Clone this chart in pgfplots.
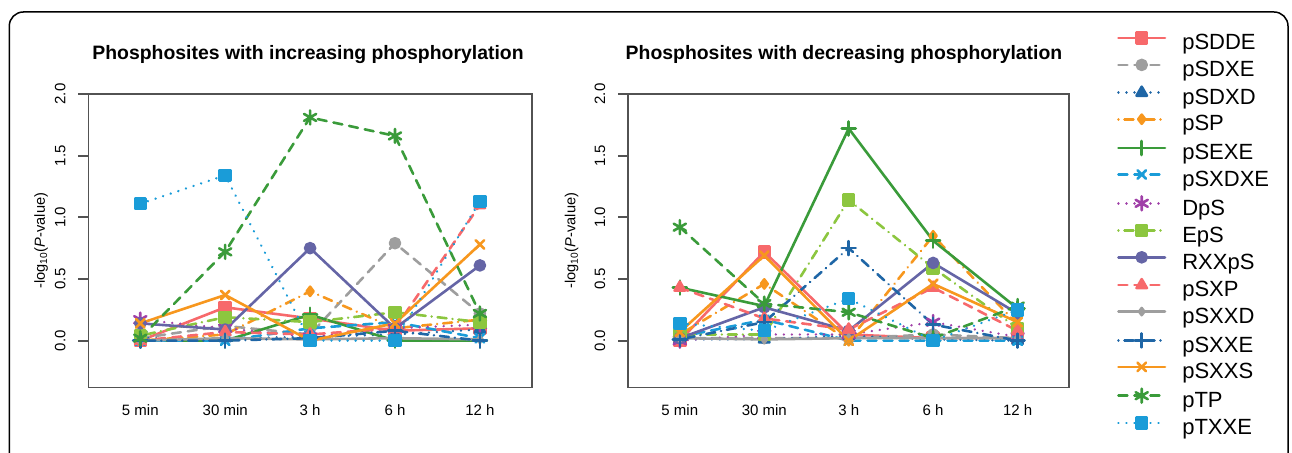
\documentclass[border=0pt]{standalone}
\usepackage{fontspec}
\setmainfont{Liberation Sans}
\usepackage{pgfplots}
\pgfplotsset{compat=1.18}

\definecolor{cSalmon}{HTML}{F7696B}
\definecolor{cGray}{HTML}{9E9E9E}
\definecolor{cNavy}{HTML}{1F66A6}
\definecolor{cOrange}{HTML}{F7971E}
\definecolor{cGreen}{HTML}{3A9B3A}
\definecolor{cSky}{HTML}{1A9CD8}
\definecolor{cPurple}{HTML}{A040A8}
\definecolor{cLime}{HTML}{8CC63F}
\definecolor{cSlate}{HTML}{6565A6}

\tikzset{
  ldash/.style={dash pattern=on 4.5pt off 3.5pt},
  ldot/.style={dash pattern=on 0.01pt off 4pt},
  ldotdash/.style={dash pattern=on 0.01pt off 3pt on 4.5pt off 3pt},
}

\pgfplotsset{
  every axis plot/.append style={line width=1.3pt, line cap=round, line join=round, mark options={solid}},
  sSDDE/.style={cSalmon, solid, mark=square*, mark size=2.7pt},
  sSDXE/.style={cGray, ldash, mark=*, mark size=2.5pt},
  sSDXD/.style={cNavy, ldot, mark=triangle*, mark size=3pt},
  sSP/.style={cOrange, ldotdash, mark=diamond*, mark size=2.3pt},
  sSEXE/.style={cGreen, solid, mark=+, mark size=3.5pt},
  sSXDXE/.style={cSky, ldash, mark=x, mark size=3pt},
  sDpS/.style={cPurple, ldot, mark=asterisk, mark size=3.5pt},
  sEpS/.style={cLime, ldotdash, mark=square*, mark size=2.7pt},
  sRXXpS/.style={cSlate, solid, mark=*, mark size=2.5pt},
  sSXP/.style={cSalmon, ldash, mark=triangle*, mark size=3pt},
  sSXXD/.style={cGray, solid, mark=diamond*, mark size=1.8pt},
  sSXXE/.style={cNavy, ldotdash, mark=+, mark size=3.5pt},
  sSXXS/.style={cOrange, solid, mark=x, mark size=3pt},
  sTP/.style={cGreen, ldash, mark=asterisk, mark size=3.5pt},
  sTXXE/.style={cSky, ldot, mark=square*, mark size=2.7pt},
  panel/.style={
    anchor=north west,
    scale only axis,
    height=146.75pt,
    xmin=0.39, xmax=5.61,
    ymin=-0.38, ymax=2.0,
    xtick={1,2,3,4,5},
    xticklabels={5 min,30 min,3 h,6 h,12 h},
    ytick={0,0.5,1,1.5,2},
    yticklabels={0.0,0.5,1.0,1.5,2.0},
    ytick pos=left,
    xtick style={draw=none},
    tick align=outside,
    major tick length=5pt,
    axis line style={draw=black!68, line width=0.9pt},
    ytick style={draw=black!68, line width=0.9pt},
    tick label style={font=\fontsize{7.5}{8}\selectfont},
    xticklabel style={anchor=base, yshift=-9pt},
    yticklabel style={rotate=90, anchor=south},
    yticklabel shift=3pt,
  },
}

\begin{document}
\begin{tikzpicture}
\useasboundingbox (0pt,0pt) rectangle (646pt,-226.5pt);
\draw[line width=0.75pt, rounded corners=7pt] (4.65pt,-240pt) -- (4.65pt,-6pt) -- (644pt,-6pt) -- (644pt,-240pt);

\begin{axis}[panel, at={(44.25pt,-47pt)}, width=221.6pt]
\addplot[sSDDE]  coordinates {(1,0.00) (2,0.27) (3,0.18) (4,0.08) (5,0.10)};
\addplot[sSDXE]  coordinates {(1,0.02) (2,0.12) (3,0.05) (4,0.79) (5,0.22)};
\addplot[sSDXD]  coordinates {(1,0.02) (2,0.02) (3,0.03) (4,0.05) (5,0.09)};
\addplot[sSP]    coordinates {(1,0.00) (2,0.05) (3,0.40) (4,0.10) (5,0.17)};
\addplot[sSEXE]  coordinates {(1,0.00) (2,0.00) (3,0.21) (4,0.00) (5,0.00)};
\addplot[sSXDXE] coordinates {(1,0.00) (2,0.00) (3,0.10) (4,0.15) (5,0.02)};
\addplot[sDpS]   coordinates {(1,0.17) (2,0.10) (3,0.03) (4,0.10) (5,0.13)};
\addplot[sEpS]   coordinates {(1,0.04) (2,0.19) (3,0.15) (4,0.23) (5,0.15)};
\addplot[sRXXpS] coordinates {(1,0.14) (2,0.09) (3,0.75) (4,0.10) (5,0.61)};
\addplot[sSXP]   coordinates {(1,0.00) (2,0.07) (3,0.05) (4,0.10) (5,1.10)};
\addplot[sSXXD]  coordinates {(1,0.00) (2,0.02) (3,0.01) (4,0.02) (5,0.01)};
\addplot[sSXXE]  coordinates {(1,0.00) (2,0.00) (3,0.02) (4,0.08) (5,0.00)};
\addplot[sSXXS]  coordinates {(1,0.14) (2,0.37) (3,0.00) (4,0.14) (5,0.78)};
\addplot[sTP]    coordinates {(1,0.02) (2,0.72) (3,1.81) (4,1.66) (5,0.22)};
\addplot[sTXXE]  coordinates {(1,1.11) (2,1.34) (3,0.00) (4,0.00) (5,1.13)};
\end{axis}

\begin{axis}[panel, at={(314.15pt,-47pt)}, width=220.4pt,
  legend cell align=left,
  legend image code/.code={\draw[mark repeat=2,mark phase=2,#1] plot coordinates {(0pt,3.5pt) (11.65pt,3.5pt) (23.3pt,3.5pt)};},
  legend style={at={(1.108,1.2102)}, anchor=north west, draw=none, fill=none, inner sep=0pt,
    font=\fontsize{11}{12}\selectfont,
    nodes={inner sep=0pt, text height=8.2pt, text depth=3.5pt},
    row sep=1.55pt, /tikz/column 1/.style={column sep=8pt}},
]
\addplot[sSDDE]  coordinates {(1,0.00) (2,0.72) (3,0.05) (4,0.02) (5,0.02)};
\addplot[sSDXE]  coordinates {(1,0.02) (2,0.02) (3,0.02) (4,0.05) (5,0.02)};
\addplot[sSDXD]  coordinates {(1,0.01) (2,0.01) (3,0.04) (4,0.01) (5,0.00)};
\addplot[sSP]    coordinates {(1,0.05) (2,0.46) (3,0.00) (4,0.85) (5,0.13)};
\addplot[sSEXE]  coordinates {(1,0.43) (2,0.28) (3,1.72) (4,0.81) (5,0.26)};
\addplot[sSXDXE] coordinates {(1,0.03) (2,0.17) (3,0.00) (4,0.00) (5,0.00)};
\addplot[sDpS]   coordinates {(1,0.00) (2,0.05) (3,0.05) (4,0.15) (5,0.03)};
\addplot[sEpS]   coordinates {(1,0.05) (2,0.05) (3,1.14) (4,0.59) (5,0.10)};
\addplot[sRXXpS] coordinates {(1,0.02) (2,0.27) (3,0.08) (4,0.63) (5,0.22)};
\addplot[sSXP]   coordinates {(1,0.43) (2,0.18) (3,0.09) (4,0.43) (5,0.08)};
\addplot[sSXXD]  coordinates {(1,0.02) (2,0.01) (3,0.02) (4,0.02) (5,0.02)};
\addplot[sSXXE]  coordinates {(1,0.01) (2,0.15) (3,0.75) (4,0.13) (5,0.00)};
\addplot[sSXXS]  coordinates {(1,0.07) (2,0.69) (3,0.00) (4,0.46) (5,0.15)};
\addplot[sTP]    coordinates {(1,0.92) (2,0.30) (3,0.23) (4,0.02) (5,0.28)};
\addplot[sTXXE]  coordinates {(1,0.14) (2,0.08) (3,0.34) (4,0.00) (5,0.25)};
\legend{pSDDE,pSDXE,pSDXD,pSP,pSEXE,pSXDXE,DpS,EpS,RXXpS,pSXP,pSXXD,pSXXE,pSXXS,pTP,pTXXE}
\end{axis}

\node[anchor=base, font=\bfseries\fontsize{9.7}{11}\selectfont] at (154pt,-30pt) {Phosphosites with increasing phosphorylation};
\node[anchor=base, font=\bfseries\fontsize{9.7}{11}\selectfont] at (422pt,-30pt) {Phosphosites with decreasing phosphorylation};
\node[rotate=90, font=\fontsize{7.3}{8}\selectfont] at (20.5pt,-120.4pt) {-log\textsubscript{10}(\textit{P}-value)};
\node[rotate=90, font=\fontsize{7.3}{8}\selectfont] at (285.85pt,-120.4pt) {-log\textsubscript{10}(\textit{P}-value)};
\end{tikzpicture}
\end{document}
